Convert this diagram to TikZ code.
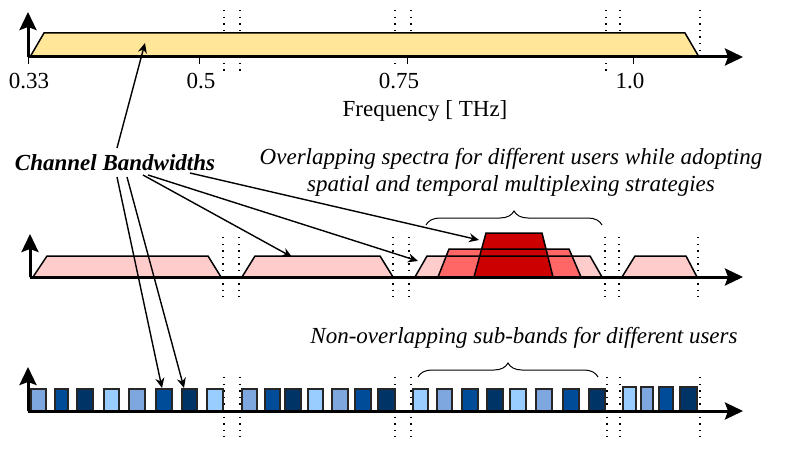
\documentclass[tikz,border=0pt]{standalone}
\usepackage{fontspec}
\setmainfont{Liberation Serif}
\usetikzlibrary{arrows.meta,decorations.pathreplacing}
\definecolor{bandyellow}{HTML}{FFE699}
\definecolor{pinkl}{HTML}{FFCCCC}
\definecolor{redm}{HTML}{FF6666}
\definecolor{redd}{HTML}{CC0000}
\definecolor{bla}{HTML}{99CCFF}
\definecolor{blb}{HTML}{7FA7DF}
\definecolor{blc}{HTML}{004C99}
\definecolor{bld}{HTML}{003366}
\tikzset{
  axisline/.style={line width=3pt,-{Stealth[length=18pt,width=17pt,inset=3pt]}},
  vaxis/.style={line width=3pt,-{Stealth[length=18pt,width=17pt,inset=3pt]}},
  band/.style={draw=black,line width=1.5pt,line join=miter},
  sq/.style={draw=black!85,line width=1.3pt},
  sep/.style={line width=1.4pt,dash pattern=on 1.4pt off 5.2pt},
  conn/.style={line width=1.4pt,-{Stealth[length=10pt,width=9pt]}},
  lbl/.style={font=\fontsize{23}{27}\selectfont,inner sep=0pt},
  brc/.style={decorate,decoration={brace,amplitude=14pt},line width=1pt}
}
\begin{document}
\begin{tikzpicture}[x=1pt,y=-1pt]
\useasboundingbox (0,0) rectangle (789,468);
% ---------- top row ----------
\foreach \x/\a/\b in {224/10/72,240/10/72,395/10/64,411/10/50,606/10/72,620/10/52,700/10/56}
  \draw[sep] (\x,\a) -- (\x,\b);
\draw[band,fill=bandyellow] (30,57) -- (44,33) -- (685,33) -- (699,57) -- cycle;
\coordinate (o1) at (28,57);
\coordinate (e1) at (743,57);
\coordinate (v1) at (28,12);
\draw[axisline] (o1) -- (e1);
\draw[vaxis] (o1) -- (v1);
\foreach \x in {28,199,407,633} \draw[line width=1pt] (\x,57) -- (\x,64);
\node[lbl] (t1) at (29,81) {0.33};
\node[lbl] (t2) at (201,81) {0.5};
\node[lbl] (t3) at (399,81) {0.75};
\node[lbl] (t4) at (630,81) {1.0};
\node[lbl] (freq) at (425,111) {Frequency [ THz]};
% ---------- middle row ----------
\foreach \x in {223,239,393,409,605,619,698}
  \draw[sep] (\x,237) -- (\x,297);
\draw[band,fill=pinkl] (33,277) -- (47,256) -- (208,256) -- (221,277) -- cycle;
\draw[band,fill=pinkl] (242,277) -- (255,256) -- (380,256) -- (393,277) -- cycle;
\fill[pinkl] (415,277) -- (427,256) -- (590,256) -- (602,277) -- cycle;
\fill[redm] (438,277) -- (449,249) -- (569,249) -- (581,277) -- cycle;
\fill[redd] (474,277) -- (486,233) -- (542,233) -- (553,277) -- cycle;
\draw[band] (415,277) -- (427,256) -- (590,256) -- (602,277) -- cycle;
\draw[band] (438,277) -- (449,249) -- (569,249) -- (581,277) -- cycle;
\draw[band] (474,277) -- (486,233) -- (542,233) -- (553,277) -- cycle;
\draw[band,fill=pinkl] (622,277) -- (635,256) -- (686,256) -- (697,277) -- cycle;
\coordinate (o2) at (30,277);
\coordinate (e2) at (743,277);
\coordinate (v2) at (30,234);
\draw[axisline] (o2) -- (e2);
\draw[vaxis] (o2) -- (v2);
\draw[brc] (426,225) -- (602,225);
\node[lbl,font=\fontsize{23}{27}\selectfont\itshape,align=center] (ovl) at (511,172)
  {Overlapping spectra for different users while adopting\\spatial and temporal multiplexing strategies};
% ---------- bottom row ----------
\foreach \x in {224,240,395,411,607,620,700}
  \draw[sep] (\x,377) -- (\x,437);
\foreach \a/\b/\c in {31/46/blb,55/68/blc,77/93/bld,104/119/bla,129/145/blb,156/172/blc,182/197/bld,207/223/bla,
  242/257/blb,265/280/blc,285/301/bld,308/323/bla,332/348/blb,355/371/blc,378/395/bld,
  413/428/bla,437/452/blb,462/478/blc,487/503/bld,510/526/bla,536/552/blb,563/579/blc,589/605/bld}
  \draw[sq,fill=\c] (\a,389) rectangle (\b,411);
\foreach \a/\b/\c in {623/636/bla,641/653/blb,659/673/blc,680/697/bld}
  \draw[sq,fill=\c] (\a,387) rectangle (\b,411);
\coordinate (o3) at (28,411);
\coordinate (e3) at (743,411);
\coordinate (v3) at (28,367);
\draw[axisline] (o3) -- (e3);
\draw[vaxis] (o3) -- (v3);
\draw[brc] (418,377) -- (598,377);
\node[lbl,font=\fontsize{23}{27}\selectfont\itshape] (nov) at (524,338)
  {Non-overlapping sub-bands for different users};
% ---------- channel bandwidths ----------
\node[lbl,font=\fontsize{23}{27}\selectfont\bfseries\itshape] (cb) at (115,163) {Channel Bandwidths};
\coordinate (s0) at (117,148);
\coordinate (d0) at (145,43);
\coordinate (s1) at (117,177);
\coordinate (d1) at (162,388);
\coordinate (s2) at (127,177);
\coordinate (d2) at (184,388);
\coordinate (s3) at (143,175);
\coordinate (d3) at (292,257);
\coordinate (s4) at (148,175);
\coordinate (d4) at (418,261);
\coordinate (s5) at (190,173);
\coordinate (d5) at (479,240);
\foreach \i in {0,...,5} \draw[conn] (s\i) -- (d\i);
\end{tikzpicture}
\end{document}
